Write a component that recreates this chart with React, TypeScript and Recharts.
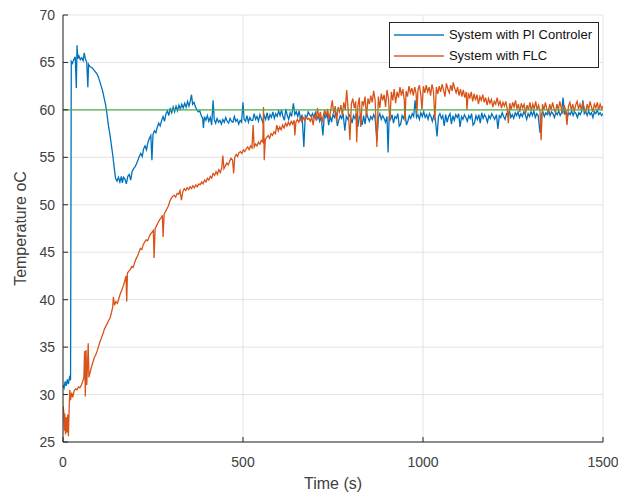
import { CartesianGrid, Line, LineChart, XAxis, YAxis } from "recharts";

const C = {
  pi: "#0072BD",
  flc: "#D95319",
  setpoint: "#4DB04A",
  axis: "#262626",
  grid: "#E3E3E3",
  text: "#404040",
};

const FONT = "'Liberation Sans', Arial, sans-serif";

const xTicks = [0, 500, 1000, 1500];
const yTicks = [25, 30, 35, 40, 45, 50, 55, 60, 65, 70];
const seriesNames = ["System with PI Controler", "System with FLC"];

// System with PI Controler
const piTime = [
  0, 3, 6, 9, 12, 15, 18, 21, 23, 26,
  30, 34, 37, 39, 41, 44, 48, 52, 56, 59,
  62, 66, 69, 71, 74, 78, 82, 86, 90, 94,
  98, 102, 106, 110, 114, 118, 122, 126, 130, 134,
  138, 142, 146, 150, 154, 158, 162, 165, 168, 172,
  176, 180, 184, 188, 192, 196, 200, 204, 208, 212,
  216, 220, 224, 228, 232, 236, 240, 244, 247, 250,
  254, 258, 262, 266, 270, 274, 278, 282, 286, 290,
  294, 298, 302, 306, 310, 314, 318, 322, 326, 330,
  334, 338, 342, 346, 350, 354, 357, 360, 364, 368,
  372, 376, 380, 384, 388, 390, 393, 397, 401, 405,
  409, 413, 417, 420, 424, 428, 432, 436, 440, 444,
  448, 452, 456, 460, 464, 468, 472, 476, 480, 484,
  488, 492, 496, 500, 503, 507, 511, 515, 519, 523,
  527, 531, 535, 539, 543, 547, 551, 555, 559, 563,
  567, 571, 575, 579, 583, 587, 591, 595, 599, 603,
  607, 611, 615, 619, 623, 627, 631, 635, 640, 644,
  648, 652, 656, 660, 664, 669, 673, 677, 681, 685,
  689, 693, 697, 701, 705, 709, 713, 717, 722, 726,
  730, 734, 738, 742, 746, 750, 754, 758, 762, 766,
  770, 774, 778, 783, 787, 791, 795, 799, 803, 807,
  811, 815, 819, 823, 827, 831, 835, 839, 843, 847,
  851, 855, 859, 863, 867, 872, 876, 880, 884, 888,
  892, 896, 900, 903, 906, 910, 914, 918, 922, 926,
  930, 934, 938, 942, 946, 950, 954, 958, 962, 966,
  970, 974, 978, 982, 986, 990, 994, 998, 1002, 1006,
  1010, 1014, 1018, 1022, 1026, 1030, 1034, 1039, 1043, 1047,
  1051, 1055, 1059, 1063, 1067, 1071, 1075, 1079, 1083, 1087,
  1091, 1095, 1099, 1103, 1107, 1111, 1115, 1119, 1123, 1127,
  1131, 1135, 1139, 1143, 1147, 1151, 1155, 1159, 1163, 1167,
  1171, 1175, 1179, 1183, 1187, 1191, 1195, 1199, 1204, 1208,
  1212, 1216, 1220, 1224, 1228, 1232, 1236, 1240, 1244, 1248,
  1252, 1256, 1260, 1264, 1268, 1272, 1276, 1280, 1284, 1288,
  1292, 1296, 1300, 1304, 1308, 1312, 1316, 1320, 1325, 1329,
  1333, 1337, 1341, 1345, 1349, 1353, 1357, 1361, 1365, 1369,
  1373, 1377, 1381, 1385, 1389, 1393, 1397, 1401, 1405, 1409,
  1413, 1417, 1421, 1425, 1429, 1433, 1437, 1441, 1444, 1448,
  1452, 1456, 1460, 1464, 1468, 1472, 1476, 1480, 1484, 1488,
  1492, 1496, 1500,
];
const piTemp = [
  31.0, 30.7, 31.4, 30.9, 31.6, 31.1, 31.8, 31.5, 65.1, 64.9,
  65.3, 65.6, 62.3, 66.8, 65.4, 65.7, 65.3, 65.5, 65.2, 66.0,
  65.4, 65.0, 62.4, 64.8, 64.6, 64.5, 64.4, 64.2, 64.0, 63.8,
  63.5, 63.0, 62.5, 62.0, 61.3, 60.6, 59.6, 58.4, 57.5, 56.4,
  55.3, 54.0, 52.8, 52.5, 52.9, 52.4, 53.0, 52.3, 52.9, 52.7,
  52.2, 53.0, 53.2, 52.6, 53.5, 53.8, 54.0, 54.3, 54.7, 55.1,
  55.4, 55.1, 55.9, 56.2, 55.8, 56.6, 57.0, 57.3, 54.7, 57.4,
  57.8, 57.6, 58.2, 58.6, 58.3, 58.9, 59.3, 58.8, 59.6, 59.9,
  59.4, 60.2, 59.7, 60.3, 59.8, 60.4, 59.9, 60.5, 60.1, 60.6,
  60.2, 60.7, 60.3, 60.9, 60.4, 61.0, 61.6, 60.6, 60.8, 60.3,
  60.0, 59.8, 59.9, 59.4, 59.1, 58.1, 59.3, 58.9, 59.4, 58.8,
  59.2, 58.4, 61.0, 59.0, 58.6, 59.1, 58.7, 58.9, 58.5, 59.0,
  58.7, 59.2, 58.8, 58.6, 59.1, 58.8, 58.7, 59.3, 58.8, 59.0,
  58.5, 58.9, 58.7, 60.8, 59.0, 58.8, 59.4, 58.7, 59.2, 58.9,
  58.9, 59.6, 59.0, 59.3, 58.8, 59.5, 59.1, 58.7, 59.4, 59.0,
  59.7, 58.9, 59.5, 59.2, 59.8, 59.1, 59.6, 59.3, 59.9, 59.4,
  60.0, 59.3, 58.9, 60.1, 59.4, 59.0, 59.7, 59.3, 60.7, 59.5,
  59.8, 59.3, 59.9, 58.9, 59.5, 56.1, 59.4, 59.2, 59.8, 59.5,
  59.3, 59.6, 59.2, 59.7, 59.0, 59.4, 58.8, 59.3, 57.3, 59.5,
  59.2, 59.6, 58.4, 59.4, 58.7, 59.5, 59.2, 59.8, 58.3, 58.9,
  59.4, 59.1, 59.6, 57.8, 59.3, 59.0, 59.5, 59.2, 58.6, 59.4,
  59.1, 59.6, 58.2, 59.3, 59.0, 58.4, 59.4, 58.5, 59.7, 59.2,
  58.8, 59.3, 59.0, 59.5, 59.1, 56.8, 59.2, 59.6, 59.0, 59.4,
  59.1, 58.7, 59.3, 55.5, 59.2, 59.0, 59.5, 58.6, 59.3, 59.1,
  59.6, 58.3, 58.5, 59.4, 59.1, 59.7, 58.4, 58.8, 59.4, 59.1,
  59.6, 59.3, 61.0, 59.2, 59.5, 59.0, 59.7, 59.3, 59.8, 59.2,
  59.5, 59.0, 59.6, 59.3, 58.8, 59.4, 59.1, 57.2, 59.3, 59.6,
  59.1, 59.4, 58.3, 59.5, 58.7, 59.3, 59.6, 58.5, 59.4, 58.9,
  59.5, 59.2, 59.6, 58.2, 59.3, 59.0, 59.5, 59.2, 58.8, 59.4,
  59.1, 59.6, 58.4, 58.6, 59.4, 59.0, 59.5, 58.6, 59.7, 59.1,
  59.5, 59.2, 58.7, 59.4, 59.1, 59.6, 59.3, 59.0, 59.5, 58.0,
  59.4, 59.2, 59.7, 59.3, 59.0, 59.6, 59.4, 59.9, 59.2, 59.5,
  59.1, 59.7, 59.4, 59.8, 59.2, 59.6, 59.3, 59.8, 59.5, 59.0,
  59.6, 59.3, 59.8, 59.4, 59.9, 59.2, 59.6, 59.4, 57.6, 59.5,
  59.8, 59.3, 59.7, 59.5, 60.0, 59.4, 59.8, 59.6, 59.2, 59.7,
  59.5, 59.9, 59.4, 59.7, 61.3, 59.6, 59.8, 59.3, 59.7, 59.5,
  59.9, 59.4, 59.8, 59.6, 59.2, 59.7, 59.5, 59.9, 61.0, 59.6,
  59.8, 59.4, 59.9, 59.5, 59.7, 59.2, 59.8, 59.6, 60.0, 59.5,
  59.7, 59.4, 59.6,
];

// System with FLC
const flcTime = [
  0, 2, 4, 5, 7, 9, 11, 13, 15, 17,
  19, 21, 24, 27, 31, 35, 39, 43, 47, 51,
  55, 58, 60, 62, 64, 66, 68, 70, 72, 75,
  79, 83, 87, 91, 95, 99, 103, 107, 111, 115,
  119, 123, 127, 131, 135, 138, 140, 143, 147, 151,
  155, 159, 163, 167, 171, 175, 177, 179, 183, 187,
  191, 195, 199, 203, 207, 211, 215, 219, 223, 227,
  231, 235, 239, 243, 247, 251, 253, 256, 260, 264,
  268, 272, 276, 278, 281, 285, 289, 293, 297, 301,
  305, 309, 313, 317, 321, 325, 329, 333, 337, 341,
  345, 349, 353, 357, 361, 365, 369, 373, 377, 381,
  385, 389, 393, 397, 401, 405, 409, 413, 417, 421,
  425, 429, 433, 437, 441, 444, 447, 451, 455, 459,
  463, 467, 471, 474, 477, 481, 485, 489, 493, 497,
  501, 505, 509, 513, 517, 521, 525, 528, 531, 535,
  539, 543, 547, 551, 555, 557, 559, 562, 566, 570,
  574, 578, 582, 586, 590, 594, 598, 602, 606, 610,
  614, 618, 622, 626, 630, 634, 638, 642, 644, 647,
  651, 655, 659, 663, 667, 671, 675, 679, 683, 687,
  691, 695, 699, 703, 707, 711, 715, 719, 723, 727,
  731, 735, 739, 743, 748, 752, 756, 760, 764, 768,
  772, 776, 780, 784, 788, 792, 797, 801, 805, 809,
  813, 816, 819, 823, 827, 831, 835, 839, 843, 847,
  851, 855, 859, 863, 867, 872, 876, 880, 884, 888,
  892, 896, 900, 904, 908, 912, 916, 920, 924, 928,
  932, 936, 940, 944, 948, 950, 953, 957, 961, 965,
  969, 973, 977, 981, 983, 986, 990, 994, 997, 1001,
  1005, 1009, 1013, 1017, 1021, 1025, 1029, 1033, 1037, 1041,
  1045, 1049, 1053, 1057, 1061, 1065, 1069, 1073, 1077, 1081,
  1084, 1088, 1092, 1096, 1100, 1104, 1108, 1112, 1116, 1120,
  1122, 1126, 1130, 1134, 1138, 1142, 1146, 1150, 1154, 1158,
  1162, 1166, 1170, 1174, 1178, 1182, 1186, 1190, 1194, 1198,
  1202, 1206, 1210, 1214, 1218, 1222, 1226, 1230, 1234, 1237,
  1241, 1245, 1249, 1253, 1257, 1261, 1265, 1269, 1273, 1277,
  1281, 1285, 1289, 1293, 1297, 1301, 1305, 1309, 1313, 1317,
  1321, 1325, 1328, 1332, 1336, 1340, 1344, 1348, 1352, 1356,
  1360, 1364, 1368, 1372, 1376, 1380, 1384, 1388, 1392, 1396,
  1400, 1404, 1408, 1412, 1416, 1420, 1424, 1428, 1432, 1436,
  1440, 1444, 1448, 1452, 1456, 1460, 1464, 1468, 1472, 1476,
  1480, 1484, 1488, 1492, 1496, 1500,
];
const flcTemp = [
  28.8, 28.3, 26.2, 28.0, 25.8, 27.6, 26.0, 27.9, 25.6, 28.4,
  30.5, 29.4, 30.2, 29.7, 30.4, 30.6, 30.5, 30.8, 30.7, 31.0,
  31.4, 31.8, 34.6, 29.8, 34.7, 31.0, 33.0, 35.4, 31.8, 32.3,
  32.9, 33.4, 33.9, 34.2, 34.6, 35.1, 35.6, 36.0, 36.4, 36.9,
  37.2, 37.5, 37.8, 38.1, 38.7, 39.2, 40.3, 39.4, 39.8, 39.6,
  40.1, 40.6, 41.0, 41.4, 41.9, 42.5, 39.8, 42.8, 43.0, 43.2,
  43.5, 43.4, 43.9, 44.3, 44.6, 45.0, 45.4, 45.3, 45.8, 46.1,
  46.3, 46.2, 46.6, 46.9, 47.1, 47.3, 44.4, 47.5, 47.8, 48.1,
  48.4, 48.6, 48.9, 46.6, 49.0, 49.3, 49.6, 49.9, 50.4, 50.7,
  50.9, 51.0, 50.8, 51.2, 51.1, 51.5, 50.5, 51.4, 51.7, 51.5,
  51.8, 51.6, 51.9, 51.7, 52.0, 51.8, 52.1, 51.9, 52.2, 52.1,
  52.4, 52.2, 52.6, 52.4, 52.8, 52.6, 53.0, 52.8, 53.3, 53.1,
  53.5, 53.2, 53.7, 53.4, 53.9, 55.2, 53.8, 54.1, 54.4, 54.2,
  54.6, 54.9, 54.7, 53.3, 55.0, 55.3, 55.1, 55.5, 55.6, 55.4,
  55.8, 55.6, 55.9, 56.1, 55.8, 56.2, 56.0, 58.4, 56.1, 56.4,
  56.2, 56.6, 56.4, 56.8, 56.6, 60.3, 54.7, 56.9, 57.1, 57.3,
  57.0, 57.5, 57.3, 57.7, 57.5, 58.4, 57.8, 58.2, 57.9, 58.4,
  58.1, 58.6, 58.3, 58.7, 58.4, 58.8, 58.5, 58.9, 57.3, 58.7,
  59.0, 58.7, 59.1, 58.8, 59.2, 58.9, 59.3, 59.0, 59.1, 58.8,
  59.2, 58.4, 59.6, 58.9, 60.2, 59.1, 59.8, 58.6, 59.4, 60.0,
  59.3, 60.1, 59.0, 59.8, 61.0, 59.6, 60.4, 58.7, 60.3, 59.8,
  60.5, 59.4, 60.8, 60.0, 62.1, 60.1, 56.8, 60.6, 61.2, 60.2,
  60.9, 56.6, 60.4, 61.3, 58.2, 60.9, 60.5, 61.4, 59.2, 61.2,
  60.6, 61.5, 60.8, 62.0, 61.0, 56.1, 61.4, 60.2, 61.7, 61.0,
  61.6, 60.3, 62.1, 61.2, 58.8, 61.9, 61.0, 62.2, 60.7, 61.9,
  61.3, 62.4, 61.5, 62.2, 61.0, 58.8, 62.0, 61.4, 62.5, 61.8,
  62.3, 61.5, 62.4, 61.7, 59.6, 62.1, 62.6, 61.6, 60.0, 62.5,
  61.8, 62.6, 61.9, 62.4, 61.5, 62.7, 62.0, 58.9, 62.4, 61.7,
  62.5, 61.9, 62.7, 62.1, 61.4, 62.8, 62.2, 61.8, 62.6, 62.0,
  62.9, 62.3, 61.8, 62.4, 61.5, 62.2, 61.4, 62.1, 61.3, 61.9,
  60.0, 61.8, 61.2, 61.9, 60.9, 61.7, 61.0, 61.6, 60.6, 61.4,
  61.0, 61.6, 60.8, 61.3, 60.5, 61.2, 60.7, 61.1, 60.3, 60.9,
  60.6, 61.3, 60.5, 60.9, 60.2, 60.8, 60.4, 60.9, 60.1, 58.6,
  60.7, 60.0, 60.8, 60.3, 61.0, 60.1, 60.6, 59.8, 60.7, 60.2,
  60.6, 59.6, 60.5, 60.0, 60.8, 59.9, 60.6, 60.1, 60.9, 60.0,
  60.5, 59.9, 56.8, 60.6, 60.0, 60.8, 60.1, 59.7, 60.6, 60.0,
  60.8, 60.1, 59.7, 60.6, 60.0, 60.9, 60.2, 59.6, 60.5, 60.0,
  58.4, 60.4, 60.8, 60.0, 60.6, 59.8, 60.5, 60.9, 60.1, 60.6,
  60.0, 60.8, 60.2, 59.7, 60.6, 60.0, 60.9, 60.3, 59.8, 60.6,
  60.2, 60.8, 60.0, 60.6, 60.1, 60.4,
];

// reference temperature
const setTime = [0, 1500];
const setTemp = [60, 60];

const piData = piTime.map((t, i) => ({ t, v: piTemp[i] }));
const flcData = flcTime.map((t, i) => ({ t, v: flcTemp[i] }));
const setData = setTime.map((t, i) => ({ t, v: setTemp[i] }));

const tickStyle = { fontSize: 14, fontFamily: FONT, fill: C.text };

function LegendBox() {
  const colors = [C.pi, C.flc];
  return (
    <div
      style={{
        position: "absolute",
        top: 22,
        right: 19,
        border: `1px solid ${C.axis}`,
        background: "#fff",
        padding: "1px 6px 1px 4px",
        fontFamily: FONT,
        fontSize: 13,
        color: "#111",
        lineHeight: "21px",
      }}
    >
      {seriesNames.map((name, i) => (
        <div key={name} style={{ display: "flex", alignItems: "center", whiteSpace: "nowrap" }}>
          <span style={{ display: "inline-block", width: 50, height: 0, borderTop: `2px solid ${colors[i]}`, opacity: 0.7, marginRight: 5 }} />
          {name}
        </div>
      ))}
    </div>
  );
}

function YTitle({ viewBox }: any) {
  const cx = viewBox.x + 22;
  const cy = viewBox.y + viewBox.height / 2;
  return (
    <text x={cx} y={cy} transform={`rotate(-90 ${cx} ${cy})`} textAnchor="middle" dominantBaseline="middle" fontSize={16} fontFamily={FONT} fill={C.text}>
      Temperature oC
    </text>
  );
}

function XTitle({ viewBox }: any) {
  const cx = viewBox.x + viewBox.width / 2;
  const cy = viewBox.y + 43;
  return (
    <text x={cx} y={cy} textAnchor="middle" dominantBaseline="middle" fontSize={16} fontFamily={FONT} fill={C.text}>
      Time (s)
    </text>
  );
}

export default function App() {
  return (
    <div style={{ position: "absolute", left: 0, top: 0, width: 618, height: 496, background: "#fff" }}>
      <LineChart width={618} height={496} data={piData} margin={{ top: 15, right: 15, left: 0, bottom: 0 }}>
        <CartesianGrid stroke={C.grid} />
        <XAxis
          dataKey="t"
          type="number"
          domain={[0, 1500]}
          ticks={xTicks}
          height={54}
          tick={tickStyle}
          tickSize={-5}
          tickMargin={20}
          axisLine={{ stroke: C.axis, strokeWidth: 1 }}
          tickLine={{ stroke: C.axis }}
          label={<XTitle />}
          allowDataOverflow
        />
        <XAxis
          xAxisId="top"
          orientation="top"
          type="number"
          domain={[0, 1500]}
          ticks={xTicks}
          height={0}
          tick={false}
          tickSize={-5}
          axisLine={{ stroke: C.axis }}
          tickLine={{ stroke: C.axis }}
        />
        <YAxis
          type="number"
          domain={[25, 70]}
          ticks={yTicks}
          width={63}
          tick={tickStyle}
          tickSize={-5}
          tickMargin={13}
          axisLine={{ stroke: C.axis, strokeWidth: 1 }}
          tickLine={{ stroke: C.axis }}
          label={<YTitle />}
          allowDataOverflow
        />
        <YAxis
          yAxisId="right"
          orientation="right"
          type="number"
          domain={[25, 70]}
          ticks={yTicks}
          width={0}
          tick={false}
          tickSize={-5}
          axisLine={{ stroke: C.axis }}
          tickLine={{ stroke: C.axis }}
        />
        <Line data={piData} dataKey="v" name={seriesNames[0]} stroke={C.pi} strokeWidth={1.3} dot={false} activeDot={false} isAnimationActive={false} />
        <Line data={flcData} dataKey="v" name={seriesNames[1]} stroke={C.flc} strokeWidth={1.3} dot={false} activeDot={false} isAnimationActive={false} />
        <Line data={setData} dataKey="v" name="Setpoint" stroke={C.setpoint} strokeWidth={1.2} dot={false} activeDot={false} isAnimationActive={false} />
      </LineChart>
      <LegendBox />
    </div>
  );
}
